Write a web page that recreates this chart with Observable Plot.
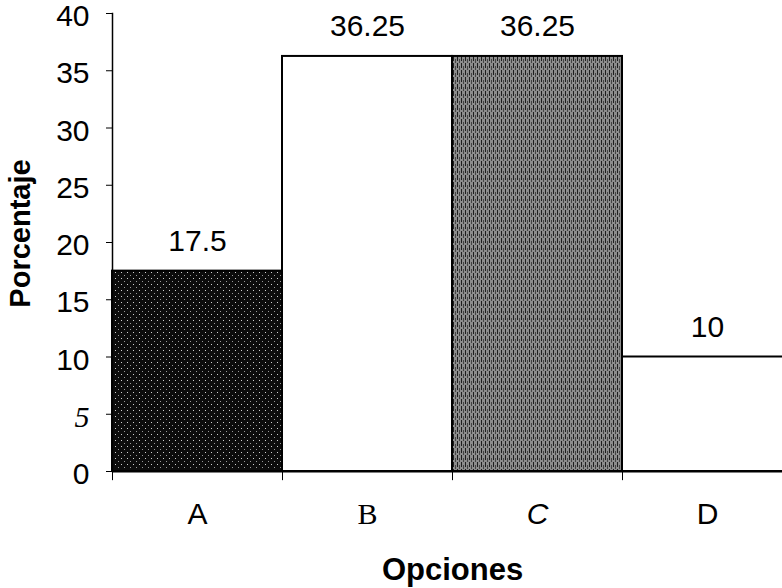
<!DOCTYPE html>
<html><head><meta charset="utf-8">
<script src="https://cdn.jsdelivr.net/npm/d3@7"></script>
<script src="https://cdn.jsdelivr.net/npm/@observablehq/plot@0.6"></script>
<style>body{margin:0;background:#fff;}</style>
</head><body><div id="chart"></div>
<script>
const categories = ["A", "B", "C", "D"];
const values = [17.5, 36.25, 36.25, 10];
const valueLabels = ["17.5", "36.25", "36.25", "10"];
const yTicks = [0, 5, 10, 15, 20, 25, 30, 35, 40];
const fills = ["url(#pA)", "white", "url(#pC)", "white"];
const xLabel = "Opciones";
const yLabel = "Porcentaje";

const data = categories.map((c, i) => ({cat: c, value: values[i], label: valueLabels[i]}));
const W = 782, H = 588, mL = 112, mR = -10, mT = 13, mB = 117;
const bw = (W - mR - mL) / categories.length;
const font = "'Liberation Sans', Arial, sans-serif";

const chart = Plot.plot({
  width: W, height: H,
  marginLeft: mL, marginRight: mR, marginTop: mT, marginBottom: mB,
  style: {fontFamily: font, background: "white", color: "black"},
  x: {domain: categories, padding: 0, axis: null},
  y: {domain: [0, 40], axis: null},
  color: {domain: categories, range: fills},
  marks: [
    Plot.barY(data, {x: "cat", y: "value", fill: "cat", stroke: "black", strokeWidth: 2}),
    Plot.ruleY([0], {stroke: "black", strokeWidth: 2}),
    Plot.ruleX(categories, {x: d => d, y1: 0, y2: -0.8, dx: -bw / 2, stroke: "black", strokeWidth: 1}),
    Plot.frame({anchor: "left", stroke: "black", strokeWidth: 1.5}),
    Plot.axisY({ticks: yTicks, tickSize: 6, tickPadding: 17, fontSize: 30, label: null}),
    Plot.axisX({tickSize: 0, tickPadding: 31, fontSize: 30, label: null}),
    Plot.text(data, {x: "cat", y: "value", text: "label", lineAnchor: "bottom", dy: -20, fontSize: 30}),
    Plot.text([xLabel], {text: d => d, frameAnchor: "bottom", lineAnchor: "middle", dy: 99, fontSize: 31, fontWeight: "bold"}),
    Plot.text([yLabel], {text: d => d, frameAnchor: "left", textAnchor: "middle", dx: -92, dy: -9, rotate: -90, fontSize: 29, fontWeight: "bold"})
  ]
});

// textures
const defs = d3.select(chart).insert("defs", ":first-child");
const pA = defs.append("pattern").attr("id", "pA").attr("width", 6).attr("height", 6).attr("patternUnits", "userSpaceOnUse");
pA.append("rect").attr("width", 6).attr("height", 6).attr("fill", "#0c0c0c");
pA.append("rect").attr("x", 1).attr("y", 2).attr("width", 1).attr("height", 1).attr("fill", "#cfcfcf");
pA.append("rect").attr("x", 4).attr("y", 5).attr("width", 1).attr("height", 1).attr("fill", "#999");
const pC = defs.append("pattern").attr("id", "pC").attr("width", 4).attr("height", 7).attr("patternUnits", "userSpaceOnUse");
pC.append("rect").attr("width", 4).attr("height", 7).attr("fill", "#8c8c8c");
pC.append("rect").attr("x", 1).attr("width", 1).attr("height", 5).attr("fill", "#1e1e1e");
pC.append("rect").attr("x", 3).attr("y", 3).attr("width", 1).attr("height", 4).attr("fill", "#444");

// y tick labels sit a little below their ticks in the original
d3.select(chart).selectAll("g[aria-label='y-axis tick label']").each(function() {
  const tr = this.getAttribute("transform") || "";
  this.setAttribute("transform", (tr + " translate(0,3)").trim());
});

// font quirks of the original
d3.select(chart).selectAll("text").each(function() {
  const t = this.textContent;
  const g = this.parentNode && this.parentNode.getAttribute("aria-label");
  if (g === "x-axis tick label" && t === "B") this.setAttribute("font-family", "'Liberation Serif', 'Times New Roman', serif");
  if (g === "x-axis tick label" && t === "C") this.setAttribute("font-style", "italic");
  if (g === "y-axis tick label" && t === "5") { this.setAttribute("font-family", "'Liberation Serif', 'Times New Roman', serif"); this.setAttribute("font-style", "italic"); }
});

document.getElementById("chart").appendChild(chart);
</script>
</body></html>
